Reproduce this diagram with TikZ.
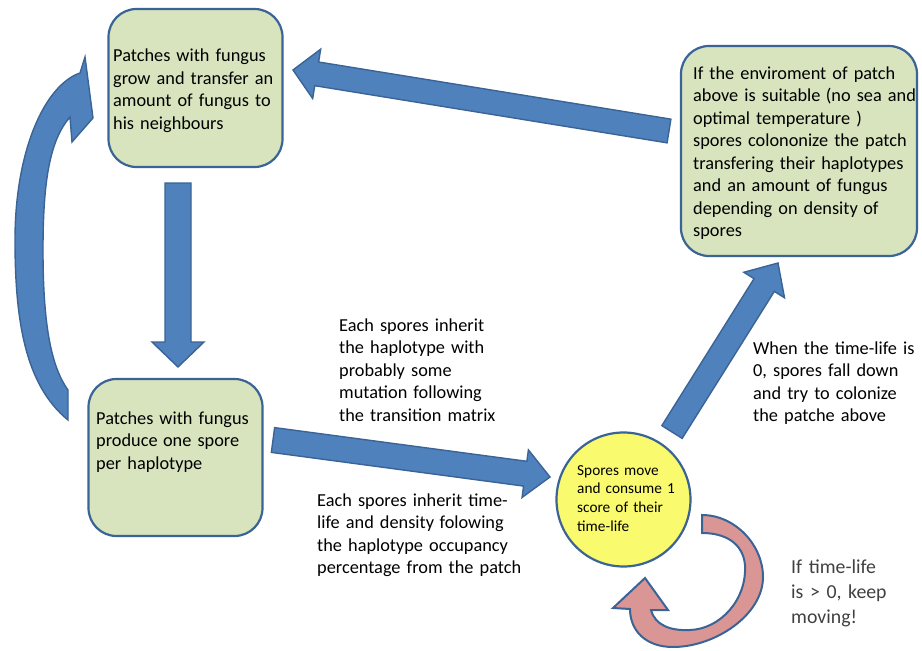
\documentclass[tikz,border=0pt]{standalone}
\usepackage{fontspec}
\setmainfont{Carlito}
\usetikzlibrary{calc}
\definecolor{arrowblue}{HTML}{4F81BD}
\definecolor{lineblue}{HTML}{3A6396}
\definecolor{boxgreen}{HTML}{D7E4BD}
\definecolor{spoyellow}{HTML}{FAFA6E}
\definecolor{loopred}{HTML}{D99694}
\definecolor{notegray}{HTML}{404040}
\newcommand\xsp{\hspace{0.3em}}
% #1 start, #2 tip, #3 half shaft width, #4 half head width, #5 head length
\newcommand\blockarrow[5]{%
  \coordinate (ba-h) at ($(#2)!#5!(#1)$);
  \path[barrow]
   ($(#1)!#3!90:(#2)$) -- ($(ba-h)!#3!-90:(#1)$) -- ($(ba-h)!#4!-90:(#1)$) -- (#2)
   -- ($(ba-h)!#4!90:(#1)$) -- ($(ba-h)!#3!90:(#1)$) -- ($(#1)!#3!-90:(#2)$) -- cycle;
}
\begin{document}
\begin{tikzpicture}[x=1pt,y=-1pt,
  box/.style={draw=lineblue, fill=boxgreen, line width=2.2pt, rounded corners=28pt, inner sep=0pt},
  barrow/.style={fill=arrowblue, draw=lineblue, line width=1.4pt, line join=miter},
  redarrow/.style={fill=loopred, draw=lineblue, line width=2pt, line join=miter},
  txt/.style={anchor=base west, align=left, inner sep=0pt, text width=260pt,
    font=\fontsize{18.3}{22.5}\selectfont},
  smalltxt/.style={txt, font=\fontsize{15.3}{18.9}\selectfont},
  notetxt/.style={txt, text=notegray, font=\fontsize{19.8}{25}\selectfont}]
\useasboundingbox (0,0) rectangle (922,651);

% boxes
\node[box, minimum width=174pt, minimum height=158pt] (tl) at (195.5,88) {};
\node[box, minimum width=236pt, minimum height=210pt] (tr) at (799,151) {};
\node[box, minimum width=174pt, minimum height=157pt] (bl) at (175.5,457.5) {};
\node[circle, draw=lineblue, fill=spoyellow, line width=2.2pt, minimum size=134pt, inner sep=0pt] (sp) at (623.5,499.5) {};

% straight block arrows
\coordinate (a1s) at (669,131); \coordinate (a1e) at (293,70);
\blockarrow{a1s}{a1e}{12pt}{25pt}{24pt}
\coordinate (a2s) at (178,183); \coordinate (a2e) at (178,367);
\blockarrow{a2s}{a2e}{13pt}{26pt}{25pt}
\coordinate (a3s) at (273,440); \coordinate (a3e) at (550,477);
\blockarrow{a3s}{a3e}{12.5pt}{24pt}{25pt}
\coordinate (a4s) at (672,432); \coordinate (a4e) at (778,263);
\blockarrow{a4s}{a4e}{12pt}{24pt}{26pt}

% left curved arrow (bottom-left box back to top-left box)
\path[barrow] (68,420) .. controls (25,385) and (15,320) .. (15,240)
  .. controls (15,150) and (45,85) .. (80,73) -- (85,57) -- (93,118) -- (72,142) -- (70,117)
  .. controls (50,140) and (43,180) .. (43,250)
  .. controls (43,320) and (50,365) .. (68,390) -- cycle;

% red loop arrow
\path[redarrow] (702,515) .. controls (735,515) and (763,545) .. (763,577)
  .. controls (763,615) and (715,647) .. (673,647)
  .. controls (645,647) and (630,630) .. (630,609)
  -- (613,608) -- (645,578) -- (668,610) -- (651,610)
  .. controls (655,625) and (670,631) .. (690,630)
  .. controls (720,629) and (747,600) .. (745,565)
  .. controls (743,543) and (725,533) .. (702,533) -- cycle;

% texts
\node[txt] (t1) at (113,61.5) {Patches with fungus\\ grow and transfer an\\ amount of fungus to\\ his neighbours};
\node[txt] (t2) at (693,79) {If the enviroment of patch\\ above is suitable\xsp (no sea and\\ optimal temperature )\\ spores colononize the patch\\ transfering their haplotypes\\ and an amount of fungus\\ depending on density\xsp of\\ spores};
\node[txt] (t3) at (96,424) {Patches with fungus\\ produce\xsp one spore\\ per haplotype};
\node[txt] (t4) at (339,331) {Each spores inherit\\ the haplotype with\\ probably some\\ mutation following\\ the transition matrix};
\node[txt] (t5) at (317,506) {Each spores inherit time-\\ life and density\xsp folowing\\ the haplotype occupancy\\ percentage from the patch};
\node[txt] (t6) at (753,354) {When the time-life is\\ 0, spores fall down\\ and try to colonize\\ the patche above};
\node[notetxt] (t7) at (791,573) {If time-life\\ is > 0, keep\\ moving!};
\node[smalltxt] (t8) at (577,475) {Spores move\\ and consume 1\\ score of their\\ time-life};
\end{tikzpicture}
\end{document}
